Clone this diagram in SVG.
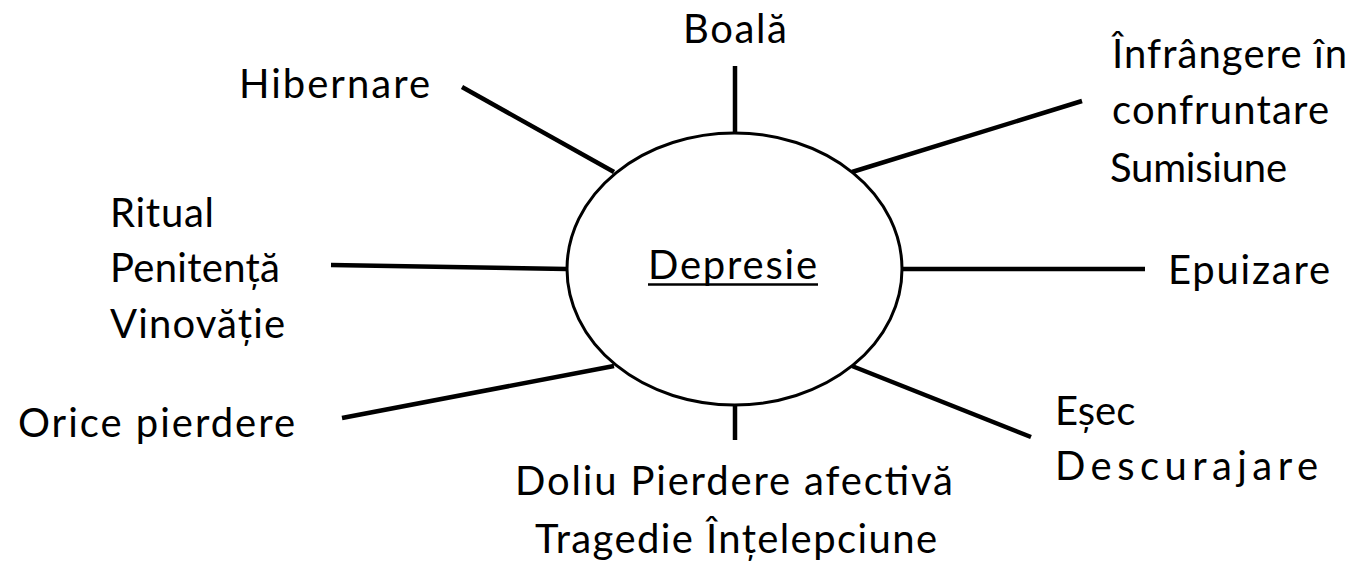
<svg xmlns="http://www.w3.org/2000/svg" width="1359" height="562" viewBox="0 0 1359 562">
<style>
.t{font-family:Lato,"Noto Sans","DejaVu Sans",sans-serif;font-size:40px;fill:#000}
.c line{stroke:#000;stroke-width:4.5}
</style>
<rect width="1359" height="562" fill="#fff"/>
<g id="connectors" class="c">
<line x1="735" y1="66" x2="735" y2="134"/>
<line x1="462" y1="87" x2="614" y2="172"/>
<line x1="1082" y1="101" x2="852" y2="172"/>
<line x1="331" y1="265" x2="567" y2="269"/>
<line x1="902" y1="269" x2="1145" y2="269"/>
<line x1="342" y1="418" x2="614" y2="366"/>
<line x1="735" y1="404" x2="735" y2="440"/>
<line x1="852" y1="366" x2="1031" y2="437"/>
</g>
<g id="center">
<ellipse cx="734.5" cy="269" rx="167.5" ry="136" fill="#fff" stroke="#000" stroke-width="3"/>
<text class="t" x="648" y="279" textLength="169">Depresie</text>
<line x1="648" y1="284.5" x2="818" y2="284.5" stroke="#000" stroke-width="2.5"/>
</g>
<g id="boala"><text class="t" x="683" y="43" textLength="104">Boală</text></g>
<g id="hibernare"><text class="t" x="239" y="98" textLength="191">Hibernare</text></g>
<g id="infrangere">
<text class="t" x="1112" y="68" textLength="235">Înfrângere în</text>
<text class="t" x="1112" y="124" textLength="217">confruntare</text>
<text class="t" x="1110" y="182" textLength="177">Sumisiune</text>
</g>
<g id="ritual">
<text class="t" x="110" y="227" textLength="104">Ritual</text>
<text class="t" x="110" y="282" textLength="170">Penitență</text>
<text class="t" x="110" y="338" textLength="175">Vinovăție</text>
</g>
<g id="epuizare"><text class="t" x="1168" y="284" textLength="162">Epuizare</text></g>
<g id="orice"><text class="t" x="18" y="437" textLength="277">Orice pierdere</text></g>
<g id="doliu">
<text class="t" x="515" y="495" textLength="438">Doliu Pierdere afectivă</text>
<text class="t" x="535" y="553" textLength="402">Tragedie Înțelepciune</text>
</g>
<g id="esec">
<text class="t" x="1055" y="425">Eșec</text>
<text class="t" x="1055" y="480" textLength="263">Descurajare</text>
</g>
</svg>
